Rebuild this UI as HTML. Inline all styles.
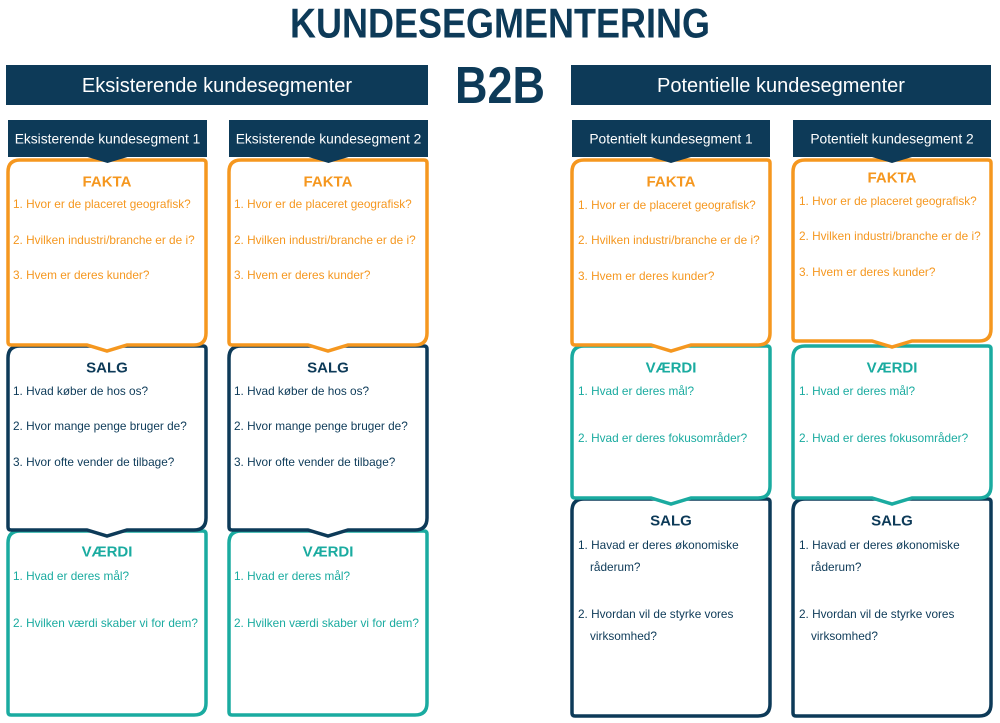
<!DOCTYPE html>
<html><head><meta charset="utf-8"><style>
html,body{margin:0;padding:0;background:#fff;width:1000px;height:723px;overflow:hidden}
text{font-family:"Liberation Sans Narrow","Liberation Sans",sans-serif}
</style></head><body>
<svg id="s" width="1000" height="723" viewBox="0 0 1000 723" xmlns="http://www.w3.org/2000/svg">
<text x="500" y="23" text-anchor="middle" dominant-baseline="central" font-size="42" fill="#0d3a58" font-weight="bold" textLength="420" lengthAdjust="spacingAndGlyphs">KUNDESEGMENTERING</text>
<rect x="6" y="65" width="422" height="40" fill="#0d3a58"/>
<text x="217" y="86" text-anchor="middle" dominant-baseline="central" font-size="20" fill="#fff">Eksisterende kundesegmenter</text>
<rect x="571" y="65" width="420" height="40" fill="#0d3a58"/>
<text x="781" y="86" text-anchor="middle" dominant-baseline="central" font-size="20" fill="#fff">Potentielle kundesegmenter</text>
<text x="500" y="86" text-anchor="middle" dominant-baseline="central" font-size="52" fill="#0d3a58" font-weight="bold" textLength="90" lengthAdjust="spacingAndGlyphs">B2B</text>
</svg>
<script>
var s=document.getElementById('s'),NS="http://www.w3.org/2000/svg";
var NAVY="#0d3a58",OR="#f5971f",TE="#1aaba0";
function el(t,a,txt){var e=document.createElementNS(NS,t);for(var k in a)e.setAttribute(k,a[k]);if(txt)e.textContent=txt;s.appendChild(e);return e;}
function box(x0,y0,x1,y1,c,nochev){var r=12,q=3,m=(x0+x1)/2;
var chev=nochev?"":(" L"+(m+20)+","+y1+" L"+m+","+(y1+6)+" L"+(m-20)+","+y1);
var d="M"+x0+","+(y0+r)+" Q"+x0+","+y0+" "+(x0+r)+","+y0+" L"+(x1-q)+","+y0+" Q"+x1+","+y0+" "+x1+","+(y0+q)+" L"+x1+","+(y1-r)+" Q"+x1+","+y1+" "+(x1-r)+","+y1+chev+" L"+(x0+q)+","+y1+" Q"+x0+","+y1+" "+x0+","+(y1-q)+" Z";
el('path',{d:d,fill:'#fff',stroke:c,'stroke-width':3.5});}
function txt(x,y,t,c,sz,anchor,w){var a={x:x,y:y,'dominant-baseline':'central','font-size':sz||11.8,fill:c,'text-anchor':anchor||'start'};if(w)a['font-weight']=w;el('text',a,t);}
function header(x0,x1,t){el('rect',{x:x0,y:120,width:x1-x0,height:37,fill:NAVY});var m=(x0+x1)/2;
el('path',{d:"M"+(m-20)+",157 L"+m+",163 L"+(m+20)+",157 Z",fill:NAVY});txt(m,139,t,'#fff',13.8,'middle');}
var F=["1. Hvor er de placeret geografisk?","2. Hvilken industri/branche er de i?","3. Hvem er deres kunder?"];
[[8,206,"Eksisterende kundesegment 1"],[229,427,"Eksisterende kundesegment 2"]].forEach(function(c){
var x0=c[0],x1=c[1],m=(x0+x1)/2,tx=x0+5;
box(x0,531,x1,715,TE,true);box(x0,346,x1,530,NAVY);box(x0,160,x1,345,OR);header(x0,x1+1,c[2]);
txt(m,182,"FAKTA",OR,15,'middle','bold');txt(tx,204,F[0],OR);txt(tx,240,F[1],OR);txt(tx,275,F[2],OR);
txt(m,368,"SALG",NAVY,15,'middle','bold');txt(tx,391,"1. Hvad køber de hos os?",NAVY);txt(tx,426,"2. Hvor mange penge bruger de?",NAVY);txt(tx,462,"3. Hvor ofte vender de tilbage?",NAVY);
txt(m,552,"VÆRDI",TE,15,'middle','bold');txt(tx,576,"1. Hvad er deres mål?",TE);txt(tx,623,"2. Hvilken værdi skaber vi for dem?",TE);
});
[[572,770,"Potentielt kundesegment 1",0,345],[793,991,"Potentielt kundesegment 2",-4,341]].forEach(function(c){
var x0=c[0],x1=c[1],m=(x0+x1)/2,tx=x0+6,o=c[3];
box(x0,499,x1,716,NAVY,true);box(x0,346,x1,498,TE);box(x0,160,x1,c[4],OR);header(x0,x1,c[2]);
txt(m,182+o,"FAKTA",OR,15,'middle','bold');txt(tx,205+o,F[0],OR);txt(tx,240+o,F[1],OR);txt(tx,276+o,F[2],OR);
txt(m,368,"VÆRDI",TE,15,'middle','bold');txt(tx,391,"1. Hvad er deres mål?",TE);txt(tx,438,"2. Hvad er deres fokusområder?",TE);
txt(m,521,"SALG",NAVY,15,'middle','bold');txt(tx,545,"1. Havad er deres økonomiske",NAVY);txt(tx+12,567,"råderum?",NAVY);
txt(tx,614,"2. Hvordan vil de styrke vores",NAVY);txt(tx+12,636,"virksomhed?",NAVY);
});
</script>
</body></html>
